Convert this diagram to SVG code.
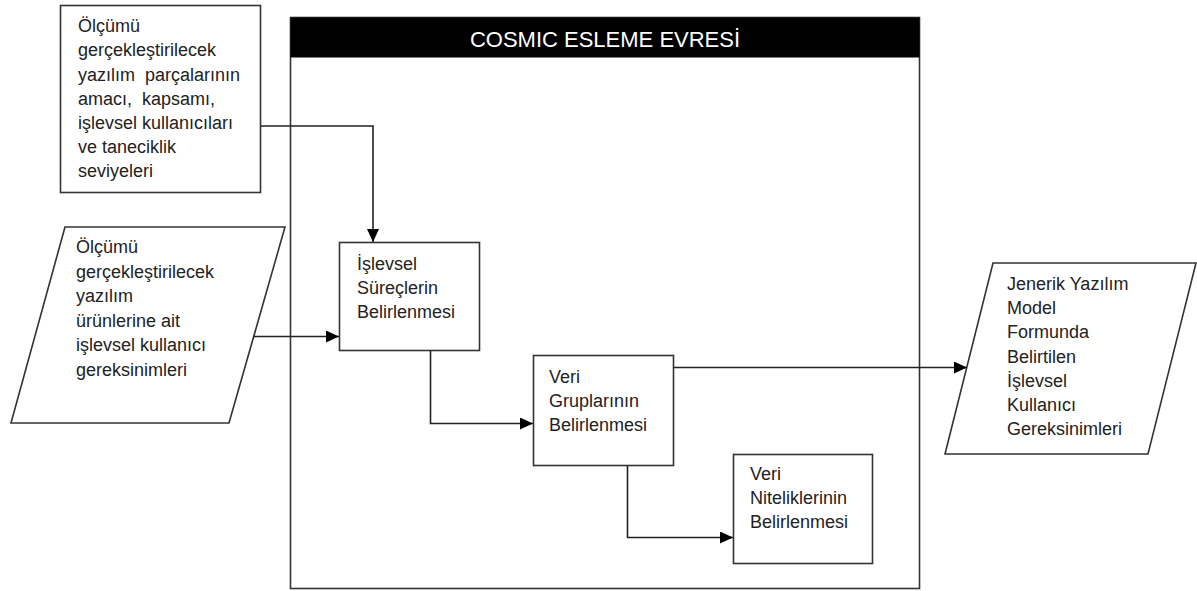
<svg xmlns="http://www.w3.org/2000/svg" width="1197" height="591" viewBox="0 0 1197 591">
  <defs>
    <style>
      .box { fill: #ffffff; stroke: #333333; stroke-width: 1.6; }
      .lbl { font-family: "Liberation Sans", Arial, sans-serif; font-size: 18px; fill: #222222; white-space: pre; }
      .title { font-family: "Liberation Sans", Arial, sans-serif; font-size: 22px; fill: #ffffff; text-anchor: middle; }
      .wire { fill: none; stroke: #222222; stroke-width: 1.6; }
    </style>
    <marker id="arrow" markerUnits="userSpaceOnUse" markerWidth="14" markerHeight="12" refX="13" refY="6" orient="auto">
      <path d="M0,0 L13,6 L0,12 Z" fill="#000000"/>
    </marker>
  </defs>
  <rect width="1197" height="591" fill="#ffffff"/>

  <!-- phase frame with black header -->
  <g id="frame">
    <rect class="box" x="290.5" y="17.5" width="629" height="571"/>
    <rect x="290.5" y="17.5" width="629" height="40" fill="#000000"/>
    <text class="title" x="605" y="47">COSMIC ESLEME EVRESİ</text>
  </g>

  <!-- input: scope of the measured software pieces -->
  <g id="input-scope">
    <rect class="box" x="60.5" y="5.5" width="200" height="187"/>
    <text class="lbl" x="78" y="32">Ölçümü</text>
    <text class="lbl" x="78" y="56">gerçekleştirilecek</text>
    <text class="lbl" x="78" y="80.5">yazılım  parçalarının</text>
    <text class="lbl" x="78" y="104.5">amacı,  kapsamı,</text>
    <text class="lbl" x="78" y="128.5">işlevsel kullanıcıları</text>
    <text class="lbl" x="78" y="152.5">ve taneciklik</text>
    <text class="lbl" x="78" y="176.5">seviyeleri</text>
  </g>

  <!-- input: functional user requirements -->
  <g id="input-fur">
    <polygon class="box" points="65,227 285,227 229,423 11,423"/>
    <text class="lbl" x="76" y="253">Ölçümü</text>
    <text class="lbl" x="76" y="277.5">gerçekleştirilecek</text>
    <text class="lbl" x="76" y="302">yazılım</text>
    <text class="lbl" x="76" y="326.5">ürünlerine ait</text>
    <text class="lbl" x="76" y="351">işlevsel kullanıcı</text>
    <text class="lbl" x="76" y="375.5">gereksinimleri</text>
  </g>

  <g id="step-processes">
    <rect class="box" x="339.5" y="242.5" width="140" height="108"/>
    <text class="lbl" x="357" y="270">İşlevsel</text>
    <text class="lbl" x="357" y="294">Süreçlerin</text>
    <text class="lbl" x="357" y="318">Belirlenmesi</text>
  </g>

  <g id="step-data-groups">
    <rect class="box" x="533.5" y="355.5" width="140" height="110"/>
    <text class="lbl" x="549" y="383">Veri</text>
    <text class="lbl" x="549" y="407">Gruplarının</text>
    <text class="lbl" x="549" y="431">Belirlenmesi</text>
  </g>

  <g id="step-data-attributes">
    <rect class="box" x="733.5" y="454.5" width="139" height="109"/>
    <text class="lbl" x="750" y="480">Veri</text>
    <text class="lbl" x="750" y="504">Niteliklerinin</text>
    <text class="lbl" x="750" y="528">Belirlenmesi</text>
  </g>

  <!-- output: generic software model -->
  <g id="output-model">
    <polygon class="box" points="993,263 1196,263 1148,454 945,454"/>
    <text class="lbl" x="1007" y="290">Jenerik Yazılım</text>
    <text class="lbl" x="1007" y="314">Model</text>
    <text class="lbl" x="1007" y="338">Formunda</text>
    <text class="lbl" x="1007" y="362.5">Belirtilen</text>
    <text class="lbl" x="1007" y="387">İşlevsel</text>
    <text class="lbl" x="1007" y="411">Kullanıcı</text>
    <text class="lbl" x="1007" y="435">Gereksinimleri</text>
  </g>

  <g id="connectors">
    <path class="wire" d="M261,126 H373 V242" marker-end="url(#arrow)"/>
    <path class="wire" d="M253,336.5 H339" marker-end="url(#arrow)"/>
    <path class="wire" d="M430.5,351 V423.5 H533" marker-end="url(#arrow)"/>
    <path class="wire" d="M674,367.5 H967" marker-end="url(#arrow)"/>
    <path class="wire" d="M627.5,466 V537.5 H733" marker-end="url(#arrow)"/>
  </g>
</svg>
